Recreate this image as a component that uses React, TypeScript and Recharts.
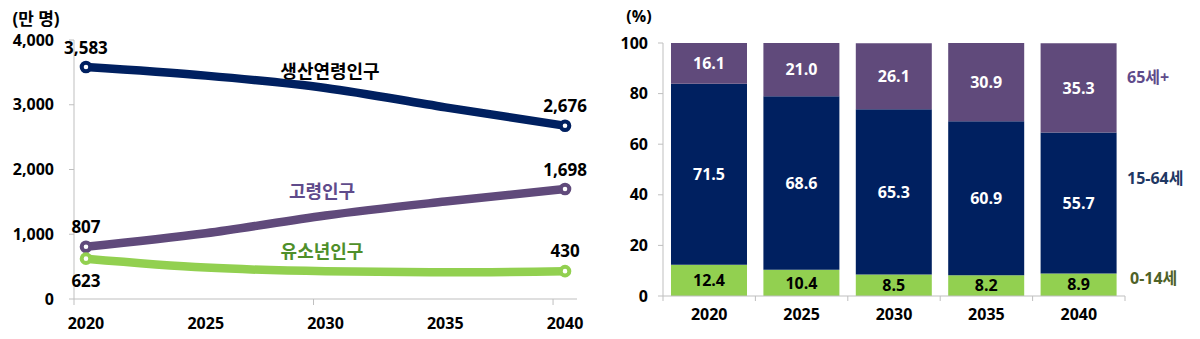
import React from 'react';
import { LineChart, Line, BarChart, Bar, XAxis, YAxis, LabelList } from 'recharts';

const FONT = "'Open Sans', 'Noto Sans CJK KR', sans-serif";

// left: population by age group (10,000 persons)
const years = [2020, 2025, 2030, 2035, 2040];
const workingAge = [3583, 3450, 3260, 2960, 2676];
const elderly = [807, 1015, 1290, 1505, 1698];
const youth = [623, 485, 428, 412, 430];
const popTicks = [0, 1000, 2000, 3000, 4000];

// right: composition (%)
const barYears = ['2020', '2025', '2030', '2035', '2040'];
const share0to14 = [12.4, 10.4, 8.5, 8.2, 8.9];
const share15to64 = [71.5, 68.6, 65.3, 60.9, 55.7];
const share65 = [16.1, 21.0, 26.1, 30.9, 35.3];
const pctTicks = [0, 20, 40, 60, 80, 100];

const NAVY = '#002060';
const PURPLE = '#604a7b';
const GREEN = '#92d050';
const AXIS = '#bfbfbf';

// tick marks on the left x axis sit on category boundaries, every 10 years
const boundaryTicks = [2019.5, 2029.5, 2039.5];
const HALF_BAND = 46.2;

const lineData = years.map((year, i) => ({
  year,
  working: workingAge[i],
  elderly: elderly[i],
  youth: youth[i],
}));

const barData = barYears.map((year, i) => ({
  year,
  young: share0to14[i],
  mid: share15to64[i],
  old: share65[i],
}));

const last = years.length - 1;

const endDot = (color: string) => (p: any) => {
  if (p.index !== 0 && p.index !== last) return <g key={`d-${p.index}`} />;
  return (
    <circle key={`d-${p.index}`} cx={p.cx} cy={p.cy} r={4.3} fill="#fff" stroke={color} strokeWidth={4} />
  );
};

const endLabel = (firstOffset: number, lastOffset: number) => (p: any) => {
  if (p.index !== 0 && p.index !== last) return null;
  const dy = p.index === 0 ? firstOffset : lastOffset;
  return (
    <text
      x={p.x}
      y={p.y + dy}
      textAnchor="middle"
      dominantBaseline="central"
      fontFamily={FONT}
      fontWeight={700}
      fontSize={17}
      fill="#000"
    >
      {Number(p.value).toLocaleString('en-US')}
    </text>
  );
};

const yearTick = (p: any) => {
  const v = p.payload.value;
  if (!Number.isInteger(v)) {
    return <line x1={p.x} x2={p.x} y1={p.y} y2={p.y + 6} stroke={AXIS} />;
  }
  return (
    <text
      x={p.x}
      y={p.y + 24}
      textAnchor="middle"
      dominantBaseline="central"
      fontFamily={FONT}
      fontWeight={700}
      fontSize={16}
      fill="#000"
    >
      {v}
    </text>
  );
};

const barTick = (p: any) => (
  <g>
    <line x1={p.x - HALF_BAND} x2={p.x - HALF_BAND} y1={p.y} y2={p.y + 5} stroke={AXIS} />
    {p.index === barYears.length - 1 && (
      <line x1={p.x + HALF_BAND} x2={p.x + HALF_BAND} y1={p.y} y2={p.y + 5} stroke={AXIS} />
    )}
    <text
      x={p.x}
      y={p.y + 18}
      textAnchor="middle"
      dominantBaseline="central"
      fontFamily={FONT}
      fontWeight={700}
      fontSize={16}
      fill="#000"
    >
      {p.payload.value}
    </text>
  </g>
);

const tickStyle = { fill: '#000', fontSize: 16, fontWeight: 700, fontFamily: FONT };

const note = (text: string, left: number, top: number, color: string, size: number, anchor = 'center') => (
  <div
    style={{
      position: 'absolute',
      left,
      top,
      transform: anchor === 'center' ? 'translate(-50%, -50%)' : 'translate(0, -50%)',
      color,
      fontSize: size,
      fontWeight: 700,
      fontFamily: FONT,
      whiteSpace: 'nowrap',
      lineHeight: 1,
    }}
  >
    {text}
  </div>
);

const pctLabel = (color: string) => ({
  position: 'center' as const,
  fill: color,
  fontSize: 16,
  fontWeight: 700,
  fontFamily: FONT,
  formatter: (v: any) => Number(v).toFixed(1),
});

export default function App() {
  return (
    <div style={{ position: 'absolute', left: 0, top: 0, width: 1200, height: 339, background: '#fff' }}>
      <div style={{ position: 'absolute', left: 0, top: 0 }}>
        <LineChart width={600} height={339} data={lineData} margin={{ top: 40, right: 23, bottom: 0, left: 0 }}>
          <XAxis
            dataKey="year"
            type="number"
            domain={[2019.5, 2040.5]}
            allowDataOverflow
            ticks={[...boundaryTicks, ...years].sort((a, b) => a - b)}
            axisLine={{ stroke: AXIS }}
            tickLine={false}
            tickSize={0}
            tickMargin={0}
            height={40}
            tick={yearTick}
            interval={0}
          />
          <YAxis
            domain={[0, 4000]}
            ticks={popTicks}
            width={74}
            tickSize={5}
            tickMargin={15}
            axisLine={{ stroke: AXIS }}
            tickLine={{ stroke: AXIS }}
            tick={tickStyle}
            tickFormatter={(v: number) => v.toLocaleString('en-US')}
          />
          <Line
            dataKey="working"
            type="monotone"
            stroke={NAVY}
            strokeWidth={8.5}
            dot={endDot(NAVY)}
            activeDot={false}
            isAnimationActive={false}
          >
            <LabelList dataKey="working" content={endLabel(-20, -20)} />
          </Line>
          <Line
            dataKey="elderly"
            type="monotone"
            stroke={PURPLE}
            strokeWidth={8.5}
            dot={endDot(PURPLE)}
            activeDot={false}
            isAnimationActive={false}
          >
            <LabelList dataKey="elderly" content={endLabel(-20, -20)} />
          </Line>
          <Line
            dataKey="youth"
            type="monotone"
            stroke={GREEN}
            strokeWidth={8.5}
            dot={endDot(GREEN)}
            activeDot={false}
            isAnimationActive={false}
          >
            <LabelList dataKey="youth" content={endLabel(22, -21)} />
          </Line>
        </LineChart>
      </div>

      <div style={{ position: 'absolute', left: 600, top: 0 }}>
        <BarChart width={600} height={339} data={barData} margin={{ top: 43, right: 75, bottom: 0, left: 0 }}>
          <XAxis
            dataKey="year"
            axisLine={{ stroke: AXIS }}
            tickLine={false}
            tickSize={0}
            tickMargin={0}
            height={43}
            tick={barTick}
            interval={0}
          />
          <YAxis
            domain={[0, 100]}
            allowDataOverflow
            ticks={pctTicks}
            width={63}
            tickSize={5}
            tickMargin={10}
            axisLine={{ stroke: AXIS }}
            tickLine={{ stroke: AXIS }}
            tick={tickStyle}
          />
          <Bar dataKey="young" stackId="a" fill={GREEN} barSize={76} isAnimationActive={false}>
            <LabelList dataKey="young" {...pctLabel('#000')} />
          </Bar>
          <Bar dataKey="mid" stackId="a" fill={NAVY} barSize={76} isAnimationActive={false}>
            <LabelList dataKey="mid" {...pctLabel('#fff')} />
          </Bar>
          <Bar dataKey="old" stackId="a" fill={PURPLE} barSize={76} isAnimationActive={false}>
            <LabelList dataKey="old" {...pctLabel('#fff')} />
          </Bar>
        </BarChart>
      </div>

      {note('(만 명)', 36, 18, '#000', 17)}
      {note('(%)', 639, 16, '#000', 16)}
      {note('생산연령인구', 330, 71, '#000', 18)}
      {note('고령인구', 322, 191, '#5f4b8b', 18)}
      {note('유소년인구', 322, 251, '#4f8f2a', 18)}
      {note('65세+', 1127, 77, '#5f4b8b', 16, 'left')}
      {note('15-64세', 1127, 178, '#1f3864', 16, 'left')}
      {note('0-14세', 1130, 278, '#4f6228', 16, 'left')}
    </div>
  );
}
